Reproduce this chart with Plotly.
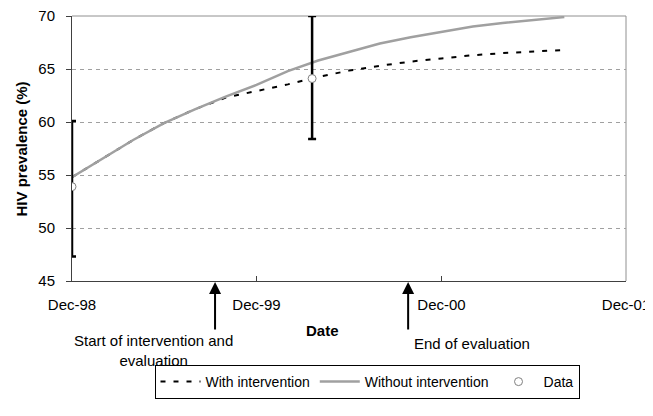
import plotly.graph_objects as go

# ---- data ----
curve_dates = ["1998-12-01", "1999-02-01", "1999-04-01", "1999-06-01", "1999-08-01",
               "1999-10-01", "1999-12-01", "2000-02-01", "2000-04-01", "2000-06-01",
               "2000-08-01", "2000-10-01", "2000-12-01", "2001-02-01", "2001-04-01",
               "2001-06-01", "2001-08-01"]
without_intervention = [54.8, 56.6, 58.3, 59.9, 61.2, 62.4, 63.5, 64.8, 65.8, 66.6,
                        67.4, 68.0, 68.5, 69.0, 69.35, 69.65, 69.9]
with_intervention = [54.8, 56.6, 58.3, 59.9, 61.2, 62.3, 62.9, 63.55, 64.25, 64.85,
                     65.3, 65.7, 66.0, 66.3, 66.5, 66.65, 66.8]

data_dates = ["1998-12-01", "2000-03-20"]
data_values = [53.9, 64.1]
data_err_plus = [6.2, 5.9]
data_err_minus = [6.6, 5.7]

event_dates = ["1999-09-10", "2000-09-26"]
event_labels = ["Start of intervention and<br>evaluation", "End of evaluation"]

x_tick_dates = ["1998-12-01", "1999-12-01", "2000-12-01", "2001-12-01"]
x_tick_labels = ["Dec-98", "Dec-99", "Dec-00", "Dec-01"]
y_ticks = [45, 50, 55, 60, 65, 70]

FONT = "Liberation Sans, Arial, sans-serif"
# the page body adds an 8px offset; the figure is sized to fill the rest of the window
W, H = 645, 408

fig = go.Figure()

fig.add_trace(go.Scatter(
    x=curve_dates, y=with_intervention, mode="lines", name="With intervention",
    line=dict(color="black", width=2, dash="5px,8px"), legendrank=1))
fig.add_trace(go.Scatter(
    x=curve_dates, y=without_intervention, mode="lines", name="Without intervention",
    line=dict(color="#a0a0a0", width=2.5), legendrank=2))
fig.add_trace(go.Scatter(
    x=data_dates, y=data_values, mode="markers", name="Data",
    marker=dict(symbol="circle", size=8, color="white",
                line=dict(color="#808080", width=1)),
    error_y=dict(type="data", symmetric=False, array=data_err_plus,
                 arrayminus=data_err_minus, color="black", thickness=2.5, width=4),
    legendrank=3))

annotations = [
    dict(text="<b>HIV prevalence (%)</b>", xref="paper", yref="paper", x=-0.0903, y=0.5,
         textangle=-90, showarrow=False, font=dict(size=15, color="black", family=FONT),
         xanchor="center", yanchor="middle"),
    dict(text="<b>Date</b>", xref="paper", yref="paper", x=0.453, y=-0.185,
         showarrow=False, font=dict(size=15, color="black", family=FONT),
         xanchor="center", yanchor="middle"),
    dict(text=event_labels[0], xref="paper", yref="paper", x=0.147, y=-0.262,
         showarrow=False, font=dict(size=15, color="black", family=FONT),
         xanchor="center", yanchor="middle", align="center"),
    dict(text=event_labels[1], xref="paper", yref="paper", x=0.614, y=-0.234,
         showarrow=False, font=dict(size=15, color="black", family=FONT),
         xanchor="left", yanchor="middle", align="left"),
]
for d in event_dates:
    annotations.append(dict(x=d, y=45, xref="x", yref="y", text="", showarrow=True,
                            ax=0, ay=50, arrowhead=2, arrowsize=1.2, arrowwidth=2,
                            arrowcolor="black", standoff=1))

fig.update_layout(
    width=W, height=H,
    margin=dict(l=64, r=27, t=8, b=135, autoexpand=False),
    paper_bgcolor="white", plot_bgcolor="white",
    font=dict(family=FONT, size=14, color="black"),
    showlegend=True,
    legend=dict(orientation="h", x=359 / W, y=1 - 374 / H, xref="container",
                yref="container", xanchor="center", yanchor="middle",
                bordercolor="black", borderwidth=1, bgcolor="white",
                font=dict(size=14, family=FONT), itemwidth=40,
                tracegroupgap=0),
    xaxis=dict(type="date", range=["1998-12-01", "2001-12-01"], automargin=False,
               tickvals=x_tick_dates, ticktext=x_tick_labels, ticklabeloverflow="allow",
               ticks="inside", ticklen=5, tickcolor="#404040",
               showline=True, linecolor="#404040", linewidth=1,
               showgrid=False, zeroline=False, ticklabelstandoff=10,
               tickfont=dict(size=15, family=FONT)),
    yaxis=dict(range=[45, 70], tickvals=y_ticks, automargin=False,
               ticklabeloverflow="allow",
               ticks="outside", ticklen=5, tickcolor="#404040",
               showline=True, linecolor="#404040", linewidth=1,
               showgrid=True, gridcolor="#a0a0a0", griddash="4px,4px", gridwidth=1,
               zeroline=False, ticklabelstandoff=8,
               tickfont=dict(size=15, family=FONT)),
    annotations=annotations,
    shapes=[
        dict(type="line", xref="paper", yref="paper", x0=0, x1=1, y0=1, y1=1,
             line=dict(color="#909090", width=1), layer="below"),
        dict(type="line", xref="paper", yref="paper", x0=1, x1=1, y0=0, y1=1,
             line=dict(color="#909090", width=1), layer="below"),
    ],
)

fig.write_html("out.html")
